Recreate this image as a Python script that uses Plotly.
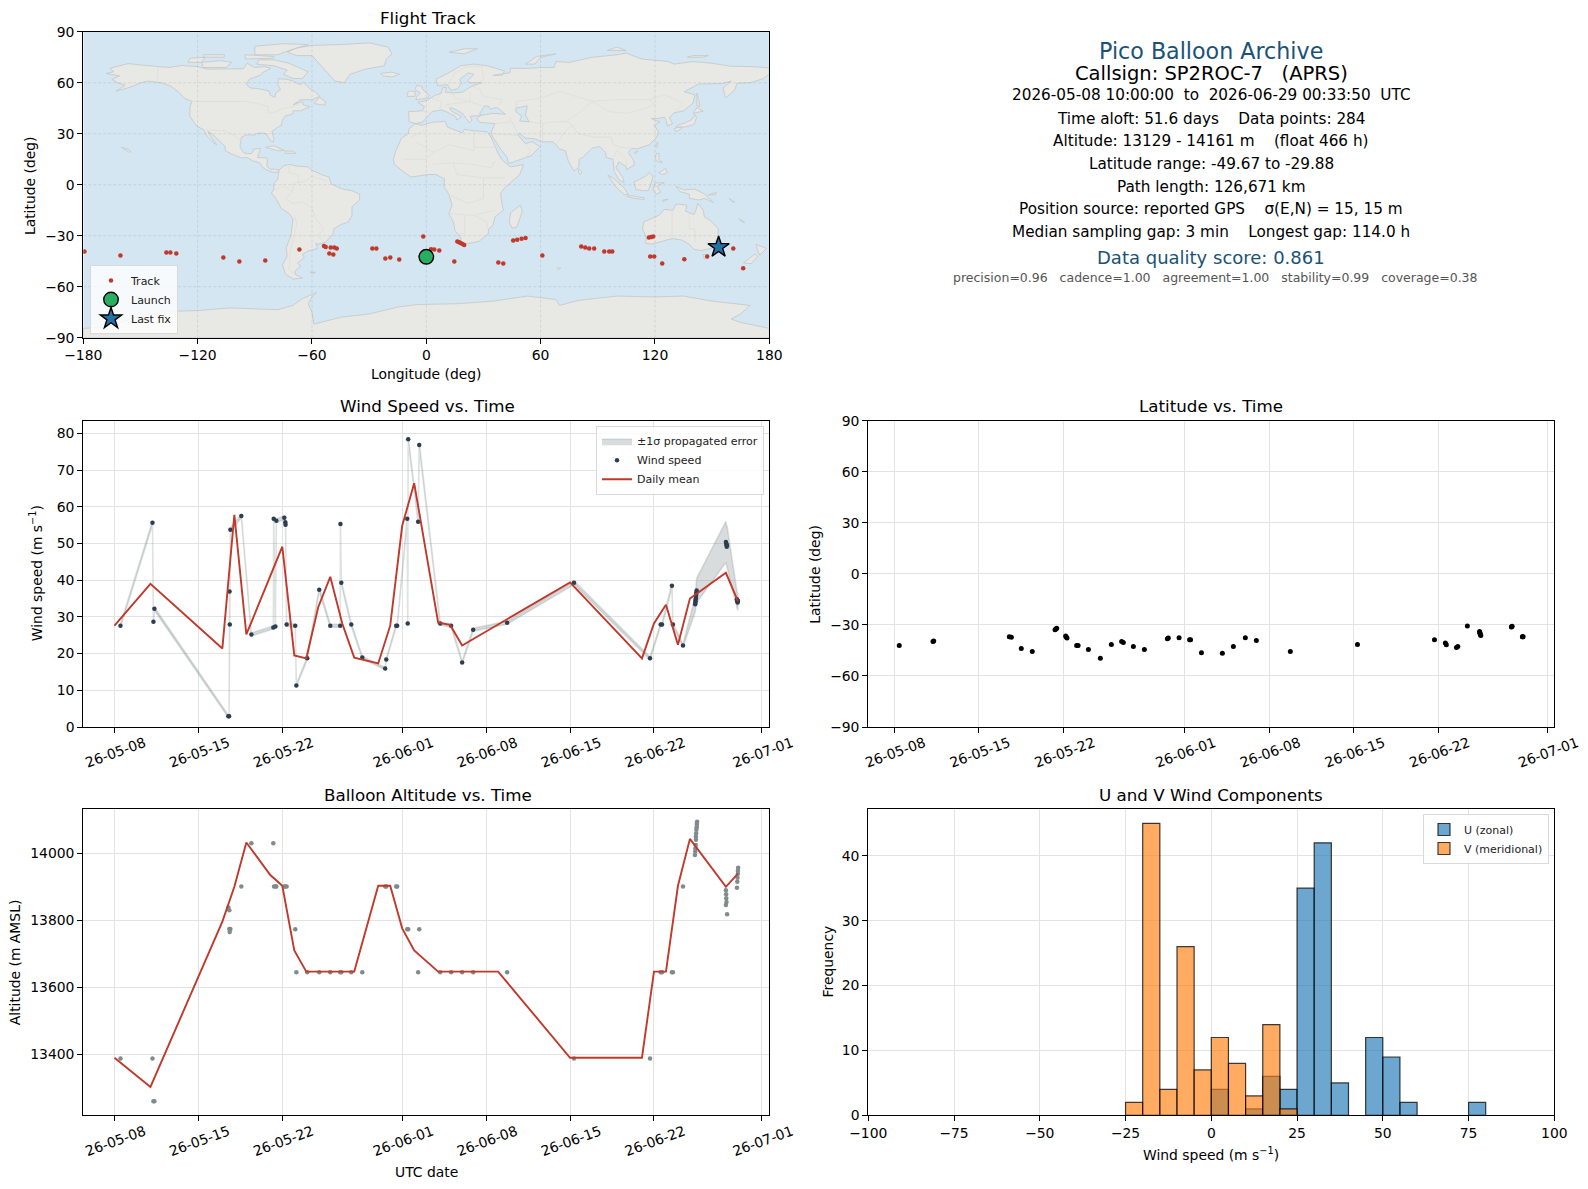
import pandas as pd
import plotly.graph_objects as go

# --- page geometry (pixels in the 1588x1189 reference) ---
OX, OY = 8, 8
W, H = 1580, 1172

# --- track ---
track_lon = [-179.4, -160.5, -136.4, -134.3, -131.2, -106.5, -98.1, -84.5, -66.6, -53.7, -52.8, -50.2, -48.3, -47.0,
             -50.9, -48.8, -28.3, -26.2, -21.5, -18.9, -14.2, -1.6, 0.0, 2.5, 4.2, 6.8, 14.7, 16.3, 17.2, 18.0, 19.0,
             19.9, 37.8, 40.4, 45.6, 47.7, 50.0, 52.1, 60.9, 81.3, 83.4, 85.5, 88.1, 93.4, 96.0, 97.6, 116.8, 118.0,
             119.1, 117.5, 119.6, 123.8, 135.4, 147.4, 153.4, 161.1, 166.3]
track_lat = [-39.3, -41.6, -39.8, -39.8, -40.4, -42.8, -45.1, -44.5, -38.1, -36.1, -36.7, -36.9, -36.9, -37.5,
             -40.4, -41.0, -37.5, -37.5, -43.4, -42.8, -44.0, -30.5, -42.4, -38.0, -38.1, -38.7, -45.1, -33.4, -33.9,
             -34.3, -34.9, -35.5, -45.7, -46.3, -32.8, -32.4, -31.8, -31.3, -41.6, -36.3, -36.9, -37.5, -37.5, -39.3,
             -39.3, -39.3, -31.1, -30.8, -30.5, -42.2, -42.2, -46.3, -43.9, -42.2, -36.7, -37.5, -49.2]
launch_lon, launch_lat = [0.0], [-42.4]
last_lon, last_lat = [153.4], [-36.7]

# --- basemap outlines, lon/lat estimated by eye ---
north_america = [(-168, 65.5), (-164, 66.5), (-166, 68.5), (-161, 70), (-156.5, 71.3), (-150, 70.5), (-141, 69.7), (-135, 69),
                 (-128, 70.2), (-120, 69.5), (-115, 68), (-108, 68), (-101, 68), (-96, 68.3), (-94, 71.5), (-90, 69), (-85, 69.5),
                 (-81.5, 68.5), (-86, 66), (-87, 64.5), (-93, 62), (-94.5, 59), (-92.5, 57), (-88, 56.5), (-82.5, 55.2), (-82, 52.8),
                 (-79.5, 51.3), (-79, 54), (-76.5, 56), (-78, 59), (-77.5, 62.5), (-73, 62), (-70, 61), (-66, 58.8), (-64.5, 60.3),
                 (-61, 56.5), (-58, 54.5), (-56, 52), (-60, 50), (-66, 50), (-70, 47), (-65, 49), (-64.5, 47), (-61, 46), (-66, 43.5),
                 (-70, 43.5), (-70, 41.7), (-74, 40.5), (-75.5, 38), (-76, 35), (-78, 33.8), (-81, 31.5), (-80, 27), (-80.3, 25.2),
                 (-81.8, 26), (-82.8, 28), (-84, 30), (-86, 30.4), (-89, 30.2), (-90, 29.2), (-94, 29.5), (-97, 28), (-97.5, 25),
                 (-97.8, 22.5), (-96, 19), (-94, 18.2), (-91.5, 18.5), (-90.5, 21), (-87, 21.5), (-88, 18), (-88.5, 16), (-84, 15.9),
                 (-83.3, 15), (-83.7, 11), (-82, 9), (-80, 9.3), (-77.3, 8.7), (-78, 7.3), (-80.5, 7.3), (-83, 8.2), (-85.7, 10),
                 (-87.5, 13), (-91, 14), (-94, 16), (-97, 15.8), (-102, 18), (-105.5, 20), (-105.5, 22.5), (-109, 26), (-112.5, 30),
                 (-114.7, 31.5), (-113, 28), (-110, 23.5), (-112, 25), (-115, 28.5), (-117, 32.5), (-120.5, 34.5), (-122.5, 37.5),
                 (-124.2, 40.5), (-124, 46), (-123, 49), (-127, 51), (-130, 54.5), (-134, 58), (-139, 60), (-146, 61), (-150, 60),
                 (-153, 58.5), (-158, 56.5), (-163, 55), (-158, 58.5), (-162, 60), (-165, 62), (-161, 64), (-168, 65.5)]
greenland = [(-73, 78), (-68, 76), (-60, 76), (-55, 70), (-51, 65), (-48, 61), (-43, 60), (-40, 65), (-32, 68), (-22, 70), (-21, 74),
             (-18, 77), (-20, 81), (-30, 83.5), (-45, 82.5), (-60, 82), (-68, 80.5), (-73, 78)]
baffin = [(-80, 73.5), (-72, 71.5), (-67, 69), (-62, 66.5), (-65, 62.5), (-70, 62.5), (-75, 65), (-73, 67.5), (-80, 70), (-89, 71), (-88, 73.5), (-80, 73.5)]
victoria_is = [(-117, 69), (-105, 69), (-102, 72), (-108, 73), (-118, 72), (-117, 69)]
ellesmere = [(-90, 76.5), (-78, 76.5), (-72, 79), (-62, 82.5), (-75, 83), (-90, 81.5), (-90, 76.5)]
banks_is = [(-125, 72), (-118, 72), (-116, 75), (-124, 74.5), (-125, 72)]
devon_is = [(-95, 74), (-80, 74.5), (-80, 75.5), (-95, 76.5), (-95, 74)]
melville_is = [(-117, 75), (-106, 75), (-106, 76.5), (-117, 76.5), (-117, 75)]
newfoundland = [(-59, 47.7), (-53, 46.8), (-53, 49), (-56, 51.5), (-59, 47.7)]
cuba = [(-84.5, 22), (-80, 23), (-74.5, 20.2), (-78, 20), (-84.5, 22)]
hispaniola = [(-74, 18.5), (-68.5, 18.5), (-70, 19.8), (-74, 19.8), (-74, 18.5)]
hawaii = [(-160, 22), (-156, 20.8), (-155, 19.3), (-156, 19.2), (-160, 22)]
south_america = [(-77.3, 8.7), (-75, 11), (-72, 12), (-68, 11), (-62, 10.5), (-60, 8.5), (-55, 6), (-51, 4.5), (-50, 0.5), (-44, -2.5),
                 (-39, -3.5), (-35, -5.5), (-35, -9), (-39, -13), (-39, -18), (-41, -22), (-45, -23.5), (-48.5, -26), (-49, -29), (-53, -34),
                 (-57, -35), (-58, -34.3), (-57, -37.5), (-62, -39), (-65, -41), (-64, -43), (-67.5, -46), (-66, -48), (-69, -51), (-68.5, -53),
                 (-65, -55), (-70, -55.5), (-74, -52.5), (-75.5, -47), (-73, -42), (-73.5, -37), (-71, -30), (-70, -20), (-72, -17), (-76, -14),
                 (-79, -8), (-81.3, -5), (-80, -2.5), (-80, 1), (-78, 3), (-77.5, 7), (-77.3, 8.7)]
falklands = [(-61, -51.5), (-58, -51.5), (-59, -52.3), (-61, -51.5)]
africa = [(-6, 35.8), (-2, 35), (3, 36.8), (10, 37.3), (11, 34), (15, 32.3), (19, 30.5), (20, 32.7), (25, 31.7), (32, 31.2), (34.2, 27.5),
          (36, 23), (37.5, 19), (39.5, 15), (43, 11.5), (44, 10.5), (51, 11.8), (49, 6), (45, 2), (41, -2), (39, -5), (39.5, -10), (40.5, -15),
          (36, -19), (35, -24), (32.8, -26), (32.5, -29), (28, -33), (25, -34), (20, -34.8), (18.3, -34), (18, -31), (15, -27), (14.3, -22),
          (11.8, -17), (13.5, -12), (12, -6), (9.3, -1), (9.5, 3.5), (8, 4.5), (5, 6), (1, 6), (-4, 5.2), (-8, 4.5), (-13, 8.5), (-16.8, 12),
          (-17.3, 15), (-16, 20), (-13, 27.5), (-9.5, 30), (-9, 33), (-6, 35.8)]
madagascar = [(49.3, -12), (50.4, -15.5), (47.5, -25), (45, -25.5), (43.5, -22), (44.3, -16.5), (49.3, -12)]
eurasia = [(-5.5, 36), (-9, 37), (-9.3, 43), (-2, 43.5), (-1, 46), (-4.5, 48.5), (0, 49.5), (2, 51), (4.5, 52.5), (8, 54), (8.5, 57), (10.5, 57.5),
           (10, 54.5), (14, 54), (19, 54.5), (21, 56), (24, 58), (29, 60), (23, 60), (21.5, 61), (25, 65), (22, 65.8), (17.5, 62), (18.5, 60),
           (16.5, 56.5), (13, 55.5), (11, 59), (6, 58.2), (5, 62), (12, 66), (18, 70), (25, 71), (32, 70), (41, 67), (40, 64.5), (35, 64.3),
           (44, 66), (44, 68.5), (54, 68.5), (60, 69), (67, 69), (68, 72.5), (73, 72), (75, 72), (81, 73.5), (87, 75), (100, 76.5), (105, 77.5),
           (113, 74), (127, 72.5), (130, 71), (140, 72.5), (150, 71.5), (160, 69.7), (170, 69.5), (180, 68.8), (180, 65), (177, 62.5), (170, 60),
           (163, 59.7), (162, 56), (157, 51), (155.7, 57), (160, 61), (155, 59.5), (143, 59.3), (135.3, 54.7), (141, 53), (140, 48), (135, 43.5),
           (130, 42.3), (127.5, 39.5), (129.3, 36), (126.5, 34.5), (126, 37.5), (125, 39.7), (121.5, 39), (118, 39), (122.5, 37), (119.5, 35),
           (121.8, 31.5), (121, 28), (117, 23.5), (110.5, 21), (108, 21.5), (106, 19), (109, 14), (109, 11.5), (105, 8.8), (105, 10.5), (101, 13.4),
           (99.5, 10), (103.3, 4), (103.8, 1.4), (101, 3), (98.5, 8), (98, 15), (94.5, 16), (94, 19), (91, 22.5), (87, 21.5), (82.5, 16.5), (80.3, 15),
           (80, 10.5), (77.5, 8), (74.5, 14), (73, 20), (70, 21), (68, 23.5), (66.5, 25.3), (61, 25.2), (57, 27), (52, 27.5), (49, 30.2), (48, 29.5),
           (50, 26.5), (52, 24.2), (56, 25.5), (56.5, 24.5), (59.8, 22.5), (55, 17), (52, 16), (45, 13), (43, 12.7), (42.5, 16), (39, 21), (35, 28),
           (34.5, 28), (34.2, 31.3), (36, 36), (32, 36.2), (28, 36.7), (26.5, 39), (29, 41), (31, 41.2), (35, 42), (41.5, 41.5), (39, 44), (37, 45.5),
           (33.5, 44.5), (33, 46), (30.7, 46.5), (28, 42), (29, 41.2), (26, 40.5), (23, 40.3), (24, 38), (22.5, 36.5), (19.5, 41), (19, 42), (14, 45),
           (12.3, 45.3), (13, 43.5), (18.5, 40), (16, 38), (15.5, 40), (10.5, 43), (8, 44), (3, 43), (0, 39.5), (-2, 36.8), (-5.5, 36)]
britain = [(-5.5, 50), (1, 51), (1.5, 52.8), (-2, 56), (-2, 57.7), (-5, 58.6), (-6, 56), (-3, 54), (-5, 52), (-5.5, 50)]
ireland = [(-10, 52), (-6, 52), (-5.7, 54.8), (-8.5, 55.2), (-10, 54), (-10, 52)]
iceland = [(-24, 65.5), (-18, 66.3), (-14, 65), (-18, 63.4), (-22.5, 64), (-24, 65.5)]
svalbard = [(12, 78), (20, 80), (27, 80), (20, 77), (12, 78)]
novaya_zemlya = [(52, 71), (57, 71), (60, 75), (68, 77), (58, 75.5), (52, 71)]
severnaya = [(95, 79), (105, 79), (100, 81), (95, 79)]
new_siberian = [(137, 75), (145, 75), (148, 76), (140, 76), (137, 75)]
sakhalin = [(142, 54), (143, 50), (143.5, 46), (142, 46.5), (142, 54)]
honshu = [(131, 34), (136, 34), (140.5, 35.5), (141.8, 39.5), (141, 41.3), (139.5, 38.5), (136, 36.5), (132.5, 35.3), (131, 34)]
hokkaido = [(140, 42), (142, 45.4), (145.3, 43.3), (141.5, 42.2), (140, 42)]
kyushu = [(130, 33), (132, 33.8), (134, 34), (134, 33), (131, 31.2), (130, 33)]
taiwan = [(120.2, 23), (121.5, 25.2), (121, 22), (120.2, 23)]
hainan = [(109, 19), (111, 19.7), (110, 18.3), (109, 19)]
sri_lanka = [(80, 9.5), (81.8, 7.5), (80.5, 6), (79.8, 8), (80, 9.5)]
luzon = [(120.3, 16), (120.7, 18.5), (122.2, 18.3), (122, 15), (124, 13), (120.7, 14), (120.3, 16)]
mindanao = [(122, 7), (125.5, 9.7), (126.5, 7), (124, 6), (122, 7)]
sumatra = [(95.3, 5.6), (98, 4), (104, -2), (106, -5.8), (104, -5.8), (100, -2), (95.3, 5.6)]
java = [(105.2, -6.8), (108, -6.5), (114.5, -7.8), (114.3, -8.7), (108, -7.8), (105.2, -6.8)]
borneo = [(109, 1.5), (111.5, 2.8), (115, 5), (117, 7), (119, 5), (118, 1), (116.5, -3.5), (114, -3.5), (110, -2.8), (109, 1.5)]
sulawesi = [(120, 1), (125, 1.3), (121, -0.8), (123, -4.5), (120.5, -5.5), (119, -3), (120, 1)]
new_guinea = [(131, -0.8), (135, -3), (141, -2.6), (146, -5.5), (150.7, -10.5), (146, -8), (143, -9), (138, -8), (138, -5.5), (133, -4), (131, -0.8)]
new_britain = [(148, -6), (152, -4.5), (152, -5.8), (148, -6)]
timor = [(124, -9), (127, -8.5), (124, -10), (124, -9)]
solomons = [(159, -8), (162, -10.5), (160, -9.5), (159, -8)]
new_caledonia = [(164, -20), (167, -22), (166, -22.2), (164, -20)]
australia = [(114, -22), (113.5, -26), (115.5, -31), (115, -34.3), (118, -35), (124, -33), (129, -31.7), (134, -32.5), (138, -35), (140.5, -38),
             (144, -38.7), (147, -38), (150, -37.5), (153, -31), (153.3, -26), (149, -21), (146, -19), (145.3, -15), (142.5, -10.8), (141.5, -15),
             (140.5, -17.5), (136, -15.5), (136.8, -12), (131, -11.3), (129.5, -15), (125, -14.5), (122, -18), (114, -22)]
tasmania = [(145, -41), (148, -41), (148, -43), (146, -43.6), (145, -41)]
nz_north = [(173, -35), (178.5, -37.5), (175, -41.5), (174, -39), (173, -35)]
nz_south = [(172.5, -40.7), (174, -42), (170.5, -46.5), (166.5, -46), (172.5, -40.7)]
kerguelen = [(68.5, -49), (70.5, -49), (69.5, -49.8), (68.5, -49)]
antarctica = [(-180, -84.5), (-170, -84), (-158, -80), (-150, -77), (-135, -74.5), (-120, -74), (-103, -72.5), (-90, -73), (-78, -73.5), (-70, -71),
              (-65, -67), (-57.5, -63.3), (-60, -66), (-62, -70), (-60, -75), (-59, -82), (-45, -78), (-30, -76), (-15, -72), (-5, -70.5), (16, -70),
              (35, -68.5), (53, -65.5), (68, -67.5), (70, -71), (80, -68), (100, -65.5), (120, -66), (135, -65.5), (150, -68.5), (170, -71), (165, -76),
              (160, -79), (165, -81), (180, -84.5), (180, -90), (-180, -90), (-180, -84.5)]
caspian = [(47, 45), (53, 46.5), (52, 41), (54, 37), (49, 37.5), (50, 40.5), (47, 43), (47, 45)]
land_polys = [north_america, greenland, baffin, victoria_is, ellesmere, banks_is, devon_is, melville_is, newfoundland, cuba, hispaniola, hawaii,
              south_america, falklands, africa, madagascar, eurasia, britain, ireland, iceland, svalbard, novaya_zemlya, severnaya, new_siberian,
              sakhalin, honshu, hokkaido, kyushu, taiwan, hainan, sri_lanka, luzon, mindanao, sumatra, java, borneo, sulawesi, new_guinea, new_britain,
              timor, solomons, new_caledonia, australia, tasmania, nz_north, nz_south, kerguelen, antarctica]
borders = [[(-123, 49), (-95, 49), (-89, 48), (-83, 46), (-82.5, 42), (-79, 43), (-75, 45), (-70, 46), (-67, 47.5)], [(-141, 69.7), (-141, 60)],
           [(-117, 32.5), (-106, 31.7), (-101, 29.5), (-97.5, 26)],
           [(-52, 2), (-60, 5), (-64, 2), (-70, 1), (-70, -4), (-74, -8), (-70, -11), (-65, -10), (-60, -14), (-58, -20), (-55, -24), (-54, -27), (-57.5, -30), (-53, -33.5)],
           [(-68.5, -53), (-72, -50), (-71.5, -40), (-70, -33), (-68, -23), (-69, -18)], [(-80, -3.5), (-75, -1), (-70, -4)], [(-72, 12), (-72, 7), (-67, 6), (-67, 1)],
           [(-9, 27.5), (-1, 32)], [(12, 23.5), (25, 20), (25, 31.7)], [(25, 22), (37, 22)], [(-5, 25), (4, 19), (12, 23.5)], [(3, 12), (14, 13), (24, 12), (34, 10), (36, 14)],
           [(-12, 15), (0, 15), (4, 19)], [(14, 13), (16, 6), (30, 4), (41, 4)], [(12, -6), (22, -11), (30, -8), (30, 4)], [(12, -17), (25, -18), (36, -15)],
           [(20, -18), (20, -29), (17, -29)], [(25, -18), (32, -22), (32, -26)],
           [(-2, 43), (3, 42.5)], [(2.5, 51), (8, 49), (7, 44)], [(8, 54), (6, 51)], [(14, 54), (15, 51), (23, 49), (23, 54)], [(10, 47), (17, 48), (23, 49), (30, 46)],
           [(30, 52), (40, 50), (38, 47)], [(24, 58), (28, 56), (30, 52)], [(12, 60), (15, 66), (20, 69), (29, 70), (30, 62), (28, 60)],
           [(48, 42), (47, 49), (60, 51), (70, 55), (87, 49), (98, 50), (108, 50), (117, 50), (125, 53), (135, 48), (131, 43)],
           [(87, 49), (96, 43), (105, 42), (112, 44), (120, 47), (117, 50)], [(87, 49), (80, 42), (74, 38), (78, 33), (80, 30), (88, 28), (97, 28), (98, 24), (102, 22), (108, 21.5)],
           [(68, 23.5), (71, 28), (74, 33), (78, 35)], [(44, 39), (46, 35), (48, 30)], [(61, 25), (61, 36), (54, 37)], [(36, 30), (46, 29), (48, 29)], [(52, 24), (55, 20), (52, 16)],
           [(36, 36), (44, 37), (44, 40)], [(61, 36), (67, 37), (74, 37)], [(98, 16), (100, 20), (105, 15), (105, 10)],
           [(129, -15), (129, -31.5)], [(138, -17), (138, -26), (141, -26), (141, -34)]]

# --- wind speed series (days after 2026-05-08, m/s) ---
wind_days = [0.5, 3.17, 3.25, 3.33, 9.5, 9.56, 9.6, 9.62, 9.67, 10.58, 11.42, 13.25, 13.28, 13.42, 13.5, 14.17, 14.25, 14.27, 14.36, 15.08, 15.17, 16.08,
             17.08, 18.0, 18.83, 18.85, 18.92, 19.75, 20.67, 22.58, 22.67, 23.5, 23.58, 24.42, 24.46, 24.5, 25.33, 25.42, 27.17, 28.08, 29.0, 29.92, 32.75,
             38.33, 44.67, 45.56, 45.67, 46.5, 46.58, 47.42, 48.44, 48.45, 48.46, 48.47, 48.49, 48.5, 48.52, 48.54, 48.56,
             51.0, 51.03, 51.05, 51.07, 51.09, 51.92, 51.94, 51.96, 51.98, 52.0]
wind_speed = [27.6, 55.6, 28.7, 32.2, 2.9, 2.9, 36.9, 27.9, 53.7, 57.5, 25.2, 27.1, 56.7, 27.4, 56.2, 57.0, 55.8, 55.1, 27.9, 27.6, 11.3, 18.7,
              37.4, 27.6, 27.6, 55.3, 39.3, 27.9, 18.9, 15.9, 18.4, 27.6, 27.6, 56.7, 28.2, 78.4, 55.9, 76.8, 28.2, 27.6, 17.6, 26.5, 28.4,
              39.3, 18.7, 27.9, 27.9, 38.5, 27.9, 22.2, 33.4, 33.8, 34.2, 34.6, 35.0, 35.5, 36.0, 36.6, 37.2,
              50.4, 50.0, 49.6, 49.1, 49.5, 34.8, 34.5, 34.2, 33.9, 34.4]
wind_err = [0.4, 0.5, 0.4, 0.4, 0.3, 0.3, 0.4, 0.4, 0.5, 0.5, 0.4, 0.4, 0.5, 0.4, 0.5, 0.5, 0.5, 0.5, 0.4, 0.4, 0.3, 0.4,
            0.5, 0.4, 0.4, 0.5, 0.4, 0.4, 0.3, 0.3, 0.3, 0.4, 0.4, 0.5, 0.4, 0.7, 0.5, 0.7, 0.4, 0.4, 0.3, 0.4, 0.4,
            0.5, 0.4, 0.4, 0.4, 0.5, 0.4, 0.4, 2.1, 2.2, 2.4, 2.5, 2.7, 2.8, 3.0, 3.2, 3.3,
            5.6, 5.5, 5.4, 5.3, 5.4, 2.2, 2.2, 2.1, 2.1, 2.1]
wind_mean_days = [0, 3, 9, 10, 11, 14, 15, 16, 17, 18, 19, 20, 22, 23, 24, 25, 27, 28, 29, 38, 44, 45, 46, 47, 48, 51, 52]
wind_mean = [27.6, 39.0, 21.4, 57.8, 25.2, 49.1, 19.5, 18.7, 32.7, 40.9, 28.2, 18.9, 17.3, 27.6, 54.8, 66.4, 28.4, 27.8, 22.2, 39.4, 18.7, 28.2, 33.3, 22.4, 35.0, 42.0, 34.3]

# --- latitude series ---
lat_days = [0.41, 3.2, 3.26, 9.51, 9.68, 10.5, 11.41, 13.29, 13.36, 13.43, 14.17, 14.22, 14.28, 15.08, 15.2, 16.05, 17.04, 17.95, 18.8, 18.94, 19.77, 20.68, 22.58, 22.66,
            23.55, 24.42, 24.5, 25.4, 27.13, 28.04, 29.03, 29.94, 32.75, 38.3, 44.67, 45.57, 45.65, 46.49, 46.6, 47.39, 48.4, 48.42, 48.44, 48.47, 48.5,
            51.03, 51.06, 51.09, 51.94, 51.97, 52.0]
lat_vals = [-42.1, -39.7, -39.5, -36.9, -37.3, -43.8, -45.6, -32.9, -32.4, -31.9, -36.5, -37.1, -37.7, -42.1, -42.1, -44.4, -49.6, -41.5, -39.8, -40.4, -42.7, -44.4, -38.1, -37.7,
            -37.5, -38.7, -38.7, -46.3, -46.7, -42.7, -37.5, -39.2, -45.6, -41.5, -38.7, -40.6, -41.7, -43.3, -42.7, -30.6, -33.8, -34.4, -35.0, -35.6, -36.2,
            -31.2, -31.0, -30.8, -36.9, -36.9, -36.9]

# --- altitude series ---
alt_days = [0.5, 3.17, 3.25, 3.33, 9.5, 9.58, 9.58, 9.67, 9.61, 10.58, 11.42, 13.25, 13.31, 13.42, 13.5, 14.17, 14.25, 14.36, 15.08, 15.17, 16.08, 17.08, 18.0, 18.83,
            18.92, 19.75, 20.67, 22.58, 22.67, 23.5, 23.58, 24.42, 24.5, 25.33, 25.42, 27.17, 28.08, 29.0, 29.92, 32.75, 38.33, 44.67, 45.56, 45.67, 46.5, 46.58, 47.42,
            48.42, 48.44, 48.46, 48.48, 48.5, 48.5, 48.52, 48.54, 48.56, 48.58, 48.58, 48.6,
            51.0, 51.02, 51.03, 51.05, 51.0, 51.1, 51.92, 51.95, 51.97, 52.0, 52.0, 52.02]
alt_vals = [13388, 13388, 13260, 13260, 13838, 13830, 13774, 13774, 13765, 13901, 14030, 14030, 13901, 13901, 13901, 13901, 13901, 13901, 13773, 13645, 13645, 13645, 13645, 13645,
            13645, 13645, 13645, 13901, 13901, 13901, 13901, 13773, 13773, 13645, 13773, 13645, 13645, 13645, 13645, 13645, 13388, 13388, 13645, 13645, 13645, 13645, 13901,
            13995, 14005, 14015, 14025, 14040, 14050, 14060, 14070, 14078, 14085, 14090, 14094,
            13890, 13878, 13866, 13855, 13846, 13818, 13897, 13915, 13927, 13939, 13948, 13957]
alt_mean_days = [0, 3, 9, 10, 11, 13, 14, 15, 16, 20, 22, 23, 24, 25, 27, 32, 38, 44, 45, 46, 47, 48, 51, 52]
alt_mean = [13390, 13303, 13796, 13900, 14032, 13935, 13903, 13710, 13647, 13647, 13903, 13903, 13776, 13710, 13647, 13647, 13390, 13390, 13647, 13647, 13903, 14043, 13900, 13939]

# --- histogram counts (bins are 5 m/s wide, left edges given) ---
u_edges = [0, 10, 15, 20, 25, 30, 35, 45, 50, 55, 75]
u_counts = [4, 1, 6, 4, 35, 42, 5, 12, 9, 2, 2]
v_edges = [-25, -20, -15, -10, -5, 0, 5, 10, 15, 20]
v_counts = [2, 45, 4, 26, 7, 12, 8, 3, 14, 1]

# --- ticks and labels ---
date_ticks = ["2026-05-08", "2026-05-15", "2026-05-22", "2026-06-01", "2026-06-08", "2026-06-15", "2026-06-22", "2026-07-01"]
date_labels = ["26-05-08", "26-05-15", "26-05-22", "26-06-01", "26-06-08", "26-06-15", "26-06-22", "26-07-01"]
lon_ticks = [-180, -120, -60, 0, 60, 120, 180]
lat_ticks = [-90, -60, -30, 0, 30, 60, 90]
wind_ticks = [0, 10, 20, 30, 40, 50, 60, 70, 80]
alt_ticks = [13400, 13600, 13800, 14000]
freq_ticks = [0, 10, 20, 30, 40]
hist_ticks = [-100, -75, -50, -25, 0, 25, 50, 75, 100]

# text, centre x (px), centre y (px), size, colour
info_lines = [
    ("Pico Balloon Archive", 1211.3, 51, 22.2, "#1a5276"),
    ("Callsign: SP2ROC-7   (APRS)", 1211.3, 74, 19.5, "#000000"),
    ("2026-05-08 10:00:00  to  2026-06-29 00:33:50  UTC", 1211.3, 95, 15.25, "#000000"),
    ("Time aloft: 51.6 days    Data points: 284", 1211.3, 119, 15.25, "#000000"),
    ("Altitude: 13129 - 14161 m    (float 466 h)", 1211.3, 141, 15.25, "#000000"),
    ("Latitude range: -49.67 to -29.88", 1211.3, 164, 15.25, "#000000"),
    ("Path length: 126,671 km", 1211.3, 187, 15.25, "#000000"),
    ("Position source: reported GPS    σ(E,N) = 15, 15 m", 1211.3, 209, 15.25, "#000000"),
    ("Median sampling gap: 3 min    Longest gap: 114.0 h", 1211.3, 232, 15.25, "#000000"),
    ("Data quality score: 0.861", 1211.3, 257, 18, "#1a5276"),
    ("precision=0.96   cadence=1.00   agreement=1.00   stability=0.99   coverage=0.38", 1215, 277, 12.5, "#555555"),
]

# text, centre x (px), centre y (px), rotated
axis_titles = [
    ("Longitude (deg)", 426.3, 373.7, False),
    ("Latitude (deg)", 29.6, 185.5, True),
    ("Wind speed (m s<sup>−1</sup>)", 35.5, 573.7, True),
    ("Latitude (deg)", 815, 573.7, True),
    ("Altitude (m AMSL)", 15.2, 962, True),
    ("UTC date", 426.3, 1171.8, False),
    ("Frequency", 827.5, 962, True),
    ("Wind speed (m s<sup>−1</sup>)", 1211.3, 1153.6, False),
]

# text, centre x (px), centre y (px)
panel_titles = [
    ("Flight Track", 427.5, 18.2),
    ("Wind Speed vs. Time", 427.5, 406.1),
    ("Latitude vs. Time", 1211.3, 406.1),
    ("Balloon Altitude vs. Time", 427.5, 795),
    ("U and V Wind Components", 1211.3, 795),
]

FONT = "DejaVu Sans"
RED = "#c0392b"
GRID = "#e3e3e3"
BASE = pd.Timestamp("2026-05-08")


def to_dates(days):
    return BASE + pd.to_timedelta(days, unit="D")


def px_x(x):
    return (x - OX) / W


def px_y(y):
    return 1 - (y - OY) / H


def flatten(polys):
    xs, ys = [], []
    for poly in polys:
        xs += [p[0] for p in poly] + [None]
        ys += [p[1] for p in poly] + [None]
    return xs, ys


fig = go.Figure()

# 1. flight track map
land_x, land_y = flatten(land_polys)
fig.add_trace(go.Scatter(x=land_x, y=land_y, mode="lines", fill="toself", fillcolor="#e8e8e4",
                         line=dict(color="#c6cbcb", width=0.9), showlegend=False, hoverinfo="skip", xaxis="x", yaxis="y"))
border_x, border_y = flatten(borders)
fig.add_trace(go.Scatter(x=border_x, y=border_y, mode="lines", line=dict(color="#dcdcd8", width=0.7),
                         showlegend=False, hoverinfo="skip", xaxis="x", yaxis="y"))
lake_x, lake_y = flatten([caspian])
fig.add_trace(go.Scatter(x=lake_x, y=lake_y, mode="lines", fill="toself", fillcolor="#d4e6f1",
                         line=dict(color="#c6cbcb", width=0.9), showlegend=False, hoverinfo="skip", xaxis="x", yaxis="y"))
# grid sits on top of the land here
grid_x = []
grid_y = []
for v in lon_ticks[1:-1]:
    grid_x += [v, v, None]
    grid_y += [-90, 90, None]
for v in lat_ticks[1:-1]:
    grid_x += [-180, 180, None]
    grid_y += [v, v, None]
fig.add_trace(go.Scatter(x=grid_x, y=grid_y, mode="lines", line=dict(color="rgba(120,120,120,0.22)", width=0.8, dash="3px,2px"),
                         showlegend=False, hoverinfo="skip", xaxis="x", yaxis="y"))
fig.add_trace(go.Scatter(x=track_lon, y=track_lat, mode="markers", name="Track", legend="legend",
                         marker=dict(color=RED, size=4.5), xaxis="x", yaxis="y"))
fig.add_trace(go.Scatter(x=launch_lon, y=launch_lat, mode="markers", name="Launch", legend="legend",
                         marker=dict(color="#27ae60", size=14.5, line=dict(color="black", width=1.4)), xaxis="x", yaxis="y"))
fig.add_trace(go.Scatter(x=last_lon, y=last_lat, mode="markers", name="Last fix", legend="legend",
                         marker=dict(color="#2471a3", size=16, symbol="star", line=dict(color="black", width=1.4)), xaxis="x", yaxis="y"))

# 2. wind speed
wind_t = to_dates(wind_days)
upper = [s + e for s, e in zip(wind_speed, wind_err)]
lower = [s - e for s, e in zip(wind_speed, wind_err)]
fig.add_trace(go.Scatter(x=list(wind_t) + list(wind_t[::-1]), y=upper + lower[::-1], mode="lines", fill="toself",
                         fillcolor="rgba(127,140,141,0.3)", line=dict(color="rgba(127,140,141,0.25)", width=1.6),
                         name="±1σ propagated error", legend="legend2", hoverinfo="skip", xaxis="x2", yaxis="y2"))
fig.add_trace(go.Scatter(x=wind_t, y=wind_speed, mode="markers", name="Wind speed", legend="legend2",
                         marker=dict(color="#2c3e50", size=4.5), xaxis="x2", yaxis="y2"))
fig.add_trace(go.Scatter(x=to_dates(wind_mean_days), y=wind_mean, mode="lines", name="Daily mean", legend="legend2",
                         line=dict(color=RED, width=1.9), xaxis="x2", yaxis="y2"))

# 3. latitude
fig.add_trace(go.Scatter(x=to_dates(lat_days), y=lat_vals, mode="markers", showlegend=False,
                         marker=dict(color="black", size=5), xaxis="x3", yaxis="y3"))

# 4. altitude
fig.add_trace(go.Scatter(x=to_dates(alt_days), y=alt_vals, mode="markers", showlegend=False,
                         marker=dict(color="#7f8c8d", size=4.5), xaxis="x4", yaxis="y4"))
fig.add_trace(go.Scatter(x=to_dates(alt_mean_days), y=alt_mean, mode="lines", showlegend=False,
                         line=dict(color=RED, width=1.9), xaxis="x4", yaxis="y4"))

# 5. U / V histogram, edges stay darker than the fill
fig.add_trace(go.Bar(x=[e + 2.5 for e in u_edges], y=u_counts, width=5, name="U (zonal)", legend="legend3",
                     marker=dict(color="rgba(31,119,180,0.65)", line=dict(color="rgba(0,0,0,0.75)", width=1.2)), xaxis="x5", yaxis="y5"))
fig.add_trace(go.Bar(x=[e + 2.5 for e in v_edges], y=v_counts, width=5, name="V (meridional)", legend="legend3",
                     marker=dict(color="rgba(255,127,14,0.65)", line=dict(color="rgba(0,0,0,0.75)", width=1.2)), xaxis="x5", yaxis="y5"))


def axis(x0, x1, **kw):
    base = dict(domain=[x0, x1], showline=True, mirror=True, linecolor="black", linewidth=1.1, ticks="outside", ticklen=5,
                tickwidth=1.1, tickcolor="black", tickfont=dict(family=FONT, size=13.9, color="black"), gridcolor=GRID, gridwidth=1.1,
                zeroline=False, automargin=False)
    base.update(kw)
    return base


def date_axis(x0, x1, anchor, lo, hi):
    return axis(x0, x1, anchor=anchor, type="date", range=[str(to_dates([lo])[0]), str(to_dates([hi])[0])], tickmode="array",
                tickvals=date_ticks, ticktext=date_labels, tickangle=-20, ticklabelshift=30, ticklabelstandoff=-3)


def legend_at(x, y, xanchor, yanchor):
    return dict(x=px_x(x), y=px_y(y), xanchor=xanchor, yanchor=yanchor, bgcolor="rgba(255,255,255,0.8)", bordercolor="#d9d9d9", borderwidth=1,
                font=dict(family=FONT, size=11, color="#222222"), itemsizing="trace", tracegroupgap=0)


LX0, LX1 = px_x(83.3), px_x(769.3)
RX0, RX1 = px_x(868.3), px_x(1554.3)

layout = dict(
    width=W, height=H, autosize=False, margin=dict(l=0, r=0, t=0, b=0), paper_bgcolor="white", plot_bgcolor="white",
    font=dict(family=FONT, color="black"), barmode="overlay", hovermode=False,
    xaxis=axis(LX0, LX1, anchor="y", range=[-180, 180], tickmode="array", tickvals=lon_ticks, showgrid=False),
    yaxis=axis(px_y(337.7), px_y(31.8), anchor="x", range=[-90, 90], tickmode="array", tickvals=lat_ticks, showgrid=False),
    xaxis2=date_axis(LX0, LX1, "y2", -2.6, 54.62),
    yaxis2=axis(px_y(727), px_y(420.8), anchor="x2", range=[0, 83.4], tickmode="array", tickvals=wind_ticks),
    xaxis3=date_axis(RX0, RX1, "y3", -2.15, 54.58),
    yaxis3=axis(px_y(727), px_y(420.8), anchor="x3", range=[-90, 90], tickmode="array", tickvals=lat_ticks),
    xaxis4=date_axis(LX0, LX1, "y4", -2.6, 54.62),
    yaxis4=axis(px_y(1115.4), px_y(808.7), anchor="x4", range=[13218, 14133], tickmode="array", tickvals=alt_ticks, tickformat="d"),
    xaxis5=axis(RX0, RX1, anchor="y5", range=[-100, 100], tickmode="array", tickvals=hist_ticks),
    yaxis5=axis(px_y(1115.4), px_y(808.7), anchor="x5", range=[0, 47.25], tickmode="array", tickvals=freq_ticks),
    legend=legend_at(90, 334, "left", "bottom"),
    legend2=legend_at(764, 425.7, "right", "top"),
    legend3=legend_at(1549, 814, "right", "top"),
    # ocean background for the map
    shapes=[dict(type="rect", xref="x", yref="y", x0=-180, x1=180, y0=-90, y1=90, fillcolor="#d4e6f1", line_width=0, layer="below")],
)
fig.update_layout(**layout)

# panel titles
for text, cx, cy in panel_titles:
    fig.add_annotation(text=text, xref="paper", yref="paper", x=px_x(cx), y=px_y(cy), xanchor="center", yanchor="middle",
                       height=20, borderpad=0, showarrow=False, font=dict(family=FONT, size=16.7, color="black"))

# axis titles
for text, cx, cy, rotated in axis_titles:
    fig.add_annotation(text=text, xref="paper", yref="paper", x=px_x(cx), y=px_y(cy), xanchor="center", yanchor="middle",
                       textangle=-90 if rotated else 0, showarrow=False, font=dict(family=FONT, size=13.9, color="black"))

# info block, top right
for text, cx, y, size, color in info_lines:
    fig.add_annotation(text=text.replace("  ", "&nbsp;&nbsp;"), xref="paper", yref="paper", x=px_x(cx), y=px_y(y), xanchor="center", yanchor="middle",
                       showarrow=False, font=dict(family=FONT, size=size, color=color))

fig.write_html("out.html")
